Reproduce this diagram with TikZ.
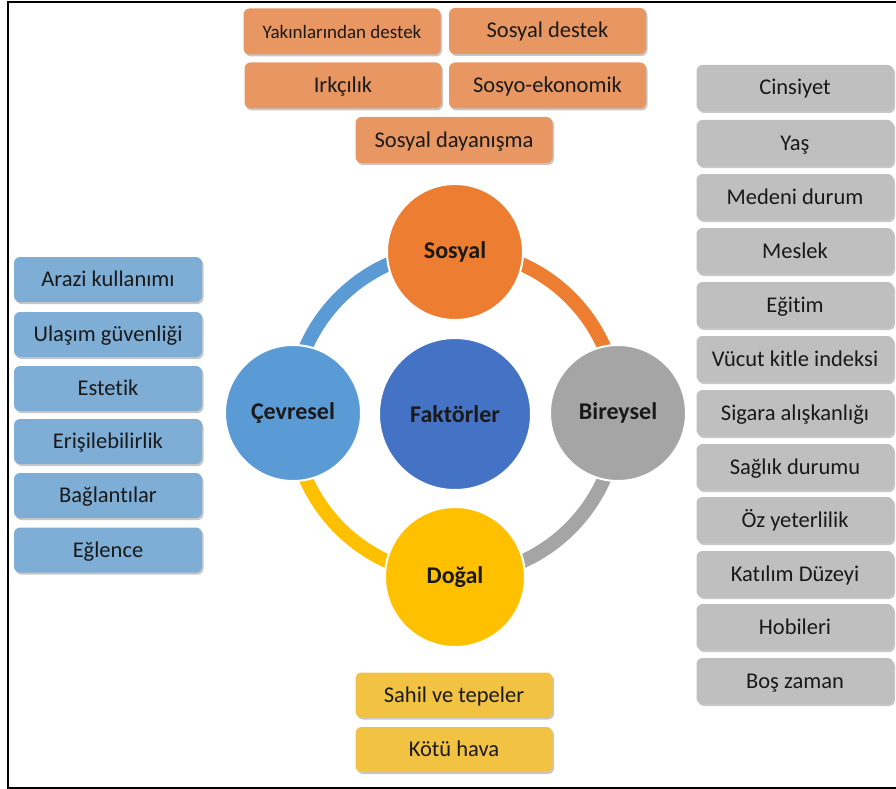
\documentclass[tikz,border=0pt]{standalone}
\usepackage{fontspec}
\setmainfont{Carlito}[Ligatures={NoCommon}]
\usetikzlibrary{shadows}
\definecolor{boxor}{RGB}{233,151,98}
\definecolor{boxbl}{RGB}{126,174,214}
\definecolor{boxgr}{RGB}{191,191,191}
\definecolor{boxye}{RGB}{242,195,66}
\definecolor{cor}{HTML}{ED7D31}
\definecolor{cbl}{HTML}{5B9BD5}
\definecolor{cgr}{HTML}{A5A5A5}
\definecolor{cye}{HTML}{FFC000}
\definecolor{cce}{HTML}{4472C4}
\definecolor{txt}{RGB}{25,25,25}
\tikzset{
  itembox/.style={rounded corners=6pt, minimum width=197pt, minimum height=46pt,
    inner sep=0pt, text=txt, font=\fontsize{22.5}{26}\selectfont,
    text height=16pt, text depth=2pt,
    drop shadow={shadow xshift=1.5pt, shadow yshift=-2pt, opacity=0.22, fill=black}},
  orbox/.style={itembox, fill=boxor},
  blbox/.style={itembox, fill=boxbl, minimum width=188pt, minimum height=45pt},
  grbox/.style={itembox, fill=boxgr},
  yebox/.style={itembox, fill=boxye, minimum height=45pt},
  factor/.style={circle, minimum size=136pt, inner sep=0pt, draw=white, line width=2pt,
    text=txt, font=\bfseries\fontsize{24}{28}\selectfont},
  ringarc/.style={line width=14pt},
  frameline/.style={line width=2pt, black}
}
\begin{document}
\begin{tikzpicture}[x=1pt,y=-1pt]
\useasboundingbox (0,0) rectangle (896,789);
% frame
\draw[frameline] (896,2) -- (8,2) -- (8,788) -- (896,788);

% ring
\coordinate (c) at (455,413);
\draw[ringarc, cor] ([shift={(90:163pt)}]c) arc[start angle=90, end angle=0, radius=163pt];
\draw[ringarc, cgr] ([shift={(0:163pt)}]c) arc[start angle=0, end angle=-90, radius=163pt];
\draw[ringarc, cye] ([shift={(-90:163pt)}]c) arc[start angle=-90, end angle=-180, radius=163pt];
\draw[ringarc, cbl] ([shift={(180:163pt)}]c) arc[start angle=180, end angle=90, radius=163pt];

% circles
\node[factor, fill=cor] (sos) at (455,252) {Sosyal};
\node[factor, fill=cbl] (cev) at (293,413) {Çevresel};
\node[factor, fill=cgr] (bir) at (618,413) {Bireysel};
\node[factor, fill=cye, minimum size=140pt] (dog) at (455,577) {Doğal};
\node[factor, fill=cce, minimum size=152pt] (fak) at (455,414) {Faktörler};

% orange boxes
\node[orbox, font=\fontsize{19}{22}\selectfont] (o1) at (342,31.5) {Yakınlarından destek};
\node[orbox] (o2) at (547.5,31) {Sosyal destek};
\node[orbox] (o3) at (343,85.5) {Irkçılık};
\node[orbox] (o4) at (547.5,85.5) {Sosyo-ekonomik};
\node[orbox] (o5) at (454,140) {Sosyal dayanışma};

% blue boxes
\node[blbox] (b1) at (108,279.5) {Arazi kullanımı};
\node[blbox] (b2) at (108,334.5) {Ulaşım güvenliği};
\node[blbox] (b3) at (108,388.5) {Estetik};
\node[blbox] (b4) at (108,441.5) {Erişilebilirlik};
\node[blbox] (b5) at (108,495.5) {Bağlantılar};
\node[blbox] (b6) at (108,550) {Eğlence};

% gray boxes
\node[grbox] (g1) at (795,88) {Cinsiyet};
\node[grbox] (g2) at (795,143) {Yaş};
\node[grbox] (g3) at (795,197) {Medeni durum};
\node[grbox] (g4) at (795,251) {Meslek};
\node[grbox] (g5) at (795,305) {Eğitim};
\node[grbox] (g6) at (795,359) {Vücut kitle indeksi};
\node[grbox] (g7) at (795,413) {Sigara alışkanlığı};
\node[grbox] (g8) at (795,467) {Sağlık durumu};
\node[grbox] (g9) at (795,520) {Öz yeterlilik};
\node[grbox] (g10) at (795,574) {Katılım Düzeyi};
\node[grbox] (g11) at (795,627) {Hobileri};
\node[grbox] (g12) at (795,681) {Boş zaman};

% yellow boxes
\node[yebox] (y1) at (454,695) {Sahil ve tepeler};
\node[yebox] (y2) at (454,749.5) {Kötü hava};
\end{tikzpicture}
\end{document}
